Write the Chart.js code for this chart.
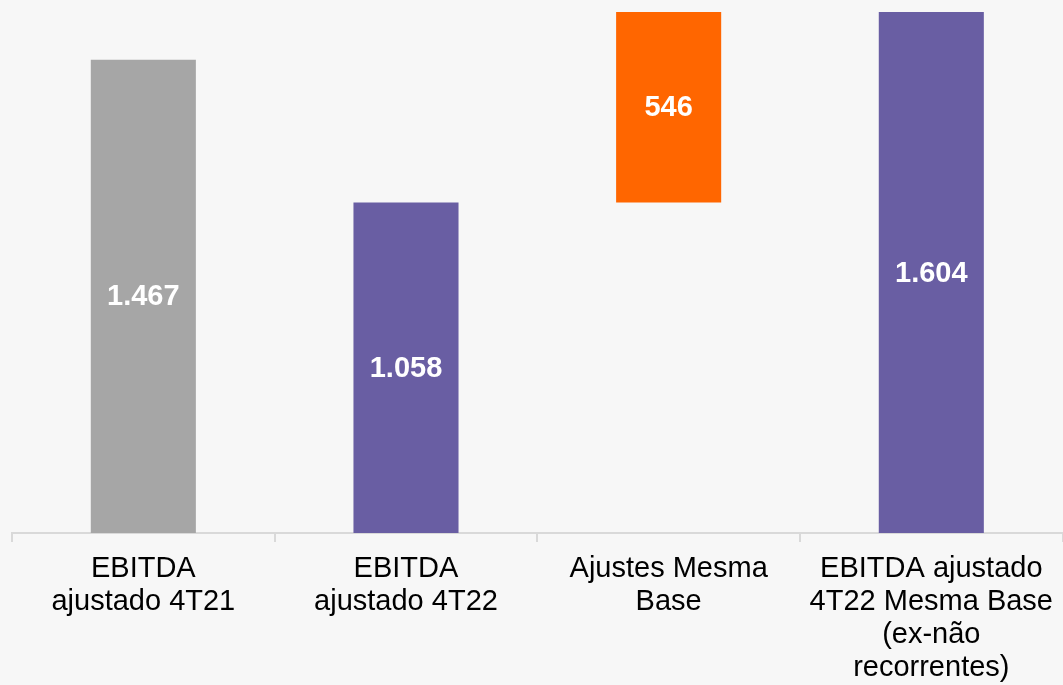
<!DOCTYPE html>
<html>
<head>
<meta charset="utf-8">
<script src="https://cdn.jsdelivr.net/npm/chart.js@4/dist/chart.umd.min.js"></script>
<style>
    body { margin: 0; background: #f7f7f7; }
    #wrap { width: 1063px; height: 685px; }
</style>
</head>
<body>
<div id="wrap"><canvas id="ebitdaCanvas" width="1063" height="685"></canvas></div>
<script>
// categories (multi-line tick labels)
const categories = [
    ['EBITDA', 'ajustado 4T21'],
    ['EBITDA', 'ajustado 4T22'],
    ['Ajustes Mesma', 'Base'],
    ['EBITDA ajustado', '4T22 Mesma Base', '(ex-não', 'recorrentes)']
];
// waterfall: where each bar starts and ends (R$ mi)
const barStart = [0, 0, 1058, 0];
const barEnd = [1467, 1058, 1604, 1604];
const barColors = ['#a6a6a6', '#695ea3', '#ff6600', '#695ea3'];

// the original chart cuts the value axis off above zero
const yMin = 110;
const yMax = 1604;

function fmt(n) {
    return String(n).replace(/\B(?=(\d{3})+(?!\d))/g, '.');
}

const barLabels = {
    id: 'barLabels',
    afterDatasetsDraw(chart) {
        const ctx = chart.ctx;
        const area = chart.chartArea;
        const meta = chart.getDatasetMeta(0);
        ctx.save();
        ctx.fillStyle = '#ffffff';
        ctx.font = 'bold 29px "Liberation Sans", Arial, sans-serif';
        ctx.textAlign = 'center';
        ctx.textBaseline = 'middle';
        meta.data.forEach((bar, i) => {
            const top = Math.max(Math.min(bar.y, bar.base), area.top);
            const bottom = Math.min(Math.max(bar.y, bar.base), area.bottom);
            ctx.fillText(fmt(barEnd[i] - barStart[i]), bar.x, (top + bottom) / 2 + 1);
        });
        ctx.restore();
    }
};

const canvas = document.getElementById('ebitdaCanvas');
new Chart(canvas.getContext('2d'), {
    type: 'bar',
    data: {
        labels: categories,
        datasets: [{
            data: barStart.map((s, i) => [s, barEnd[i]]),
            backgroundColor: barColors,
            borderWidth: 0,
            barPercentage: 0.4,
            categoryPercentage: 1.0,
            clip: 0
        }]
    },
    options: {
        responsive: false,
        animation: false,
        layout: { padding: { left: 12, top: 12, right: 0, bottom: 0 } },
        plugins: {
            legend: { display: false },
            tooltip: { enabled: false }
        },
        scales: {
            x: {
                grid: {
                    offset: true,
                    drawOnChartArea: false,
                    drawTicks: true,
                    tickLength: 9,
                    color: '#d9d9d9',
                    lineWidth: 2
                },
                border: { color: '#d9d9d9', width: 2 },
                ticks: {
                    color: '#000000',
                    padding: 10,
                    maxRotation: 0,
                    autoSkip: false,
                    font: { family: '"Liberation Sans", Arial, sans-serif', size: 29, lineHeight: '33px' }
                },
                afterFit(scale) { scale.height = 152; }
            },
            y: {
                display: false,
                min: yMin,
                max: yMax
            }
        }
    },
    plugins: [barLabels]
});
</script>
</body>
</html>
